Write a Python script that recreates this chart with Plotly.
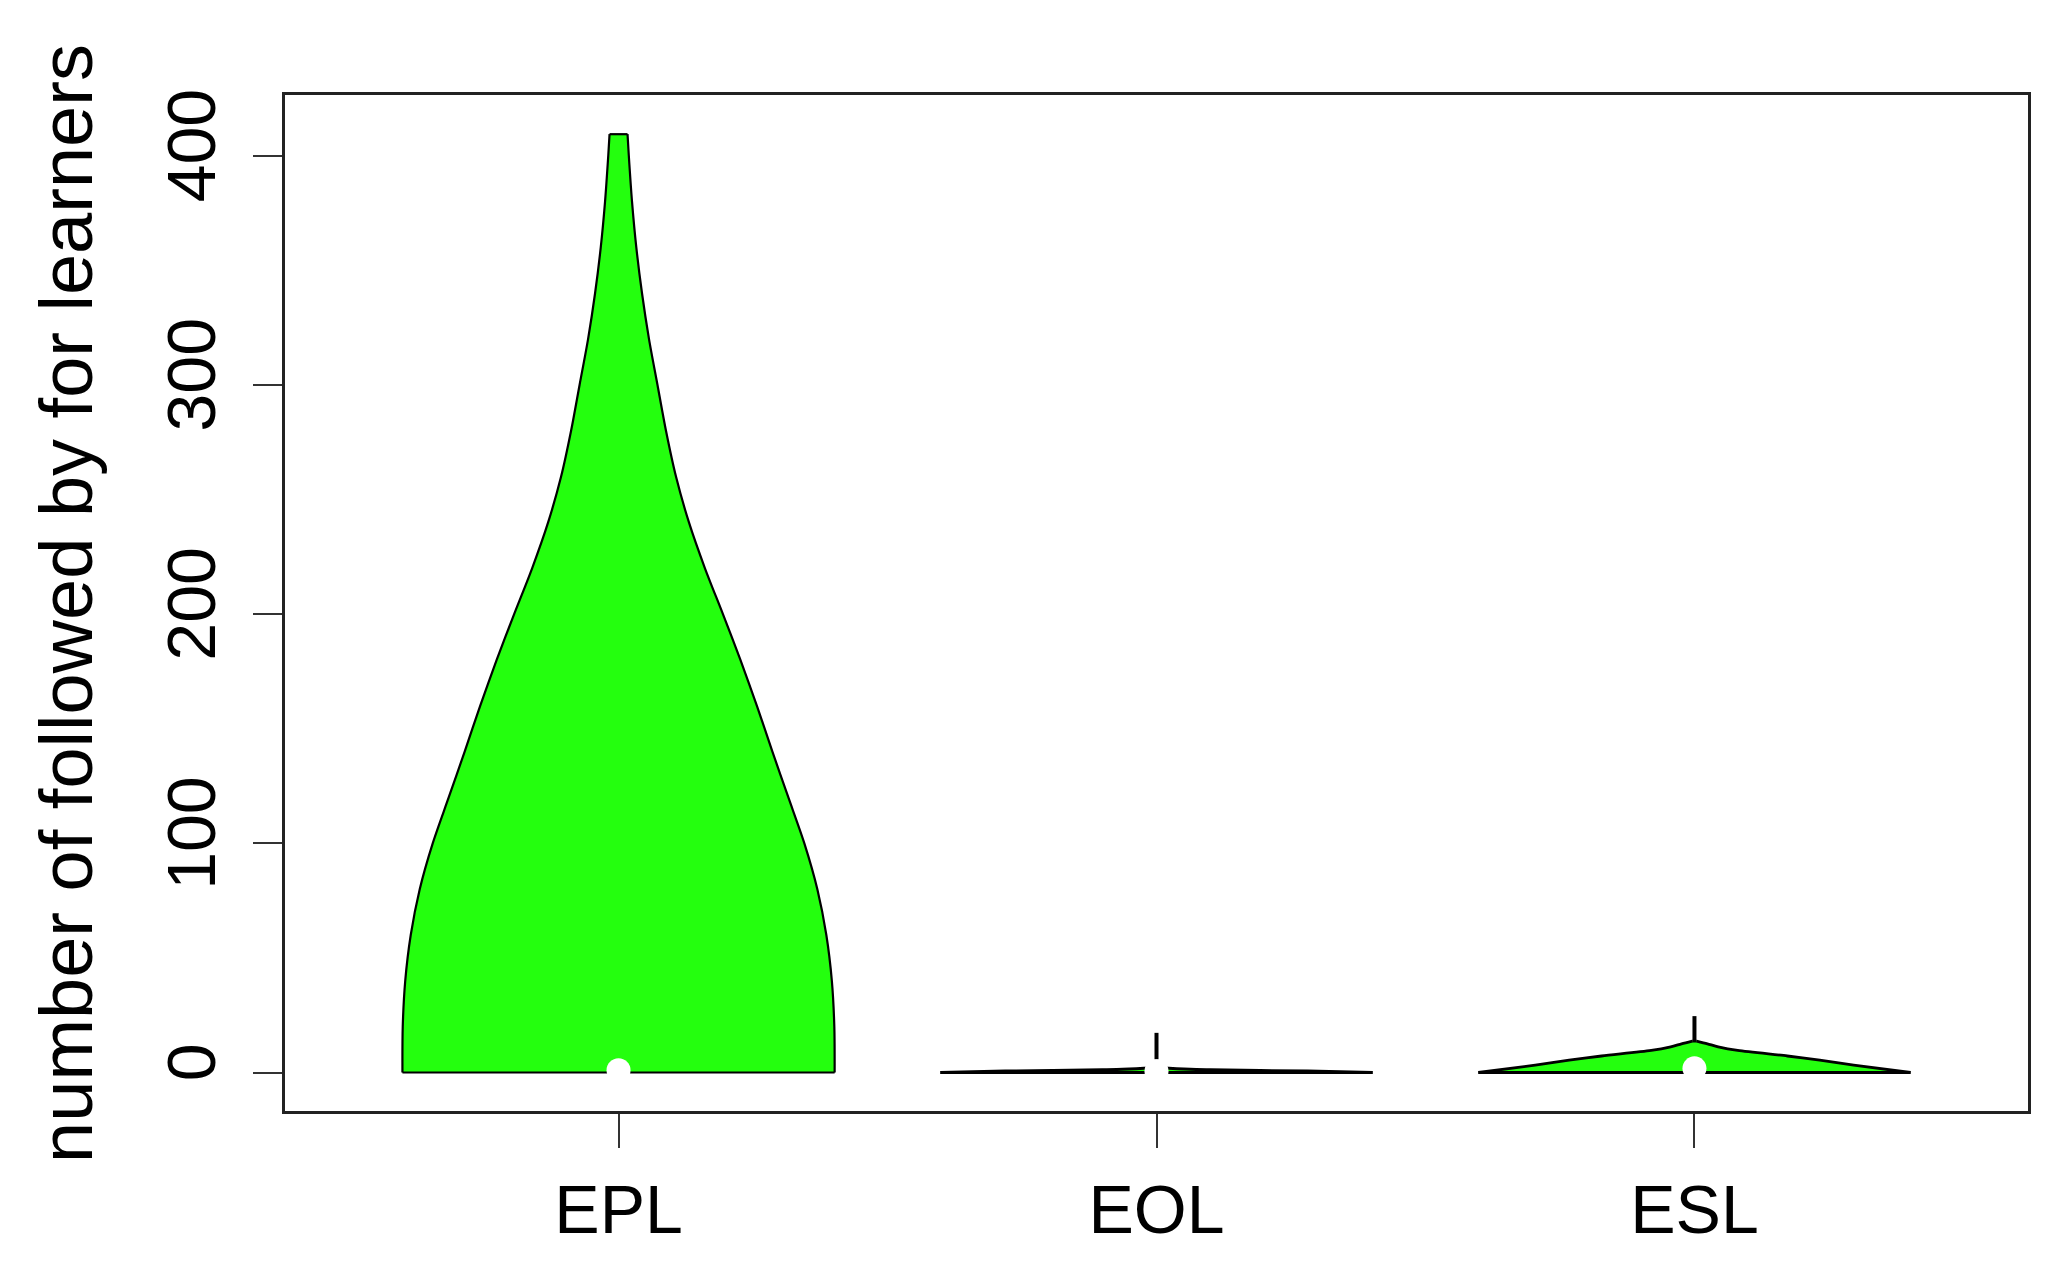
import plotly.graph_objects as go

# ---- data ----
categories = ["EPL", "EOL", "ESL"]
positions = [1, 2, 3]

# violin profiles: value levels and relative density (1 = widest)
epl_levels = [0, 20, 40, 60, 80, 100, 120, 140, 160, 180, 200, 220, 240, 260, 280, 300,
              320, 340, 360, 380, 400, 409.4]
epl_density = [1.0, 0.9986, 0.9871, 0.9616, 0.9200, 0.8599, 0.7859, 0.7120, 0.6403, 0.5640,
               0.4831, 0.3999, 0.3259, 0.2658, 0.2196, 0.1803, 0.1410, 0.1086, 0.0823, 0.0624,
               0.0476, 0.0416]

eol_levels = [0, 0.6, 1.2, 2.0]
eol_density = [1.0, 0.7, 0.25, 0.02]

esl_levels = [0, 3.2, 5.4, 7.2, 9.6, 11.2, 12.5, 13.7]
esl_density = [1.0, 0.737, 0.58, 0.43, 0.2, 0.11, 0.06, 0.01]

# whisker segments (low, high) and medians
whisker_low = [None, 5.7, 13.7]
whisker_high = [None, 17.3, 24.6]
medians = [1.0, 0.5, 1.8]

y_ticks = [0, 100, 200, 300, 400]
y_title = "number of followed by for learners"

# ---- style ----
WEX = 0.4017
FILL = "rgb(36,255,14)"
FONT = "Liberation Sans, Arial, sans-serif"
OUTLINE = [2.2, 3.0, 2.8]

profiles = [(epl_levels, epl_density), (eol_levels, eol_density), (esl_levels, esl_density)]


def seg(fig, xs, ys, lw, spline=False):
    line = dict(color="black", width=lw)
    if spline:
        line.update(shape="spline", smoothing=0.8)
    fig.add_trace(go.Scatter(x=xs, y=ys, mode="lines", line=line,
                             hoverinfo="skip", showlegend=False))


fig = go.Figure()
for pos, (lv, dn), lw in zip(positions, profiles, OUTLINE):
    right_x = [pos + WEX * d for d in dn]
    left_x = [pos - WEX * d for d in dn]
    # filled body
    fig.add_trace(go.Scatter(
        x=right_x + left_x[::-1], y=list(lv) + list(lv[::-1]), mode="lines",
        fill="toself", fillcolor=FILL, line=dict(width=0, color=FILL),
        hoverinfo="skip", showlegend=False))
    # outline: smooth sides, straight bottom and top
    seg(fig, right_x, lv, lw, spline=True)
    seg(fig, left_x, lv, lw, spline=True)
    seg(fig, [left_x[0], right_x[0]], [lv[0], lv[0]], lw)
    seg(fig, [left_x[-1], right_x[-1]], [lv[-1], lv[-1]], lw)

for pos, lo, hi in zip(positions, whisker_low, whisker_high):
    if lo is None:
        continue
    seg(fig, [pos, pos], [lo, hi], 4)

fig.add_trace(go.Scatter(
    x=positions, y=medians, mode="markers",
    marker=dict(color="white", size=24, line=dict(width=0)),
    hoverinfo="skip", showlegend=False, cliponaxis=False))

fig.update_layout(
    width=2069, height=1276,
    margin=dict(l=277, r=49, t=87, b=173, autoexpand=False),
    paper_bgcolor="white", plot_bgcolor="white",
    font=dict(family=FONT, color="black"),
    showlegend=False,
)
fig.add_annotation(
    text=y_title, xref="paper", yref="paper", x=-0.1257, y=0.5,
    xanchor="center", yanchor="middle", textangle=-90, showarrow=False,
    font=dict(size=74, family=FONT, color="black"),
)
fig.update_xaxes(
    range=[0.38, 3.62], tickmode="array", tickvals=positions, ticktext=categories,
    showgrid=False, zeroline=False,
    showline=True, mirror=True, linecolor="#222", linewidth=3,
    ticks="outside", ticklen=34, tickwidth=2, tickcolor="#333",
    tickfont=dict(size=68, family=FONT, color="black"),
    ticklabelstandoff=3,
)
fig.update_yaxes(
    range=[-16.8, 426.5], tickmode="array", tickvals=y_ticks,
    ticktext=[str(t) for t in y_ticks],
    showgrid=False, zeroline=False,
    showline=True, mirror=True, linecolor="#222", linewidth=3,
    ticks="outside", ticklen=29, tickwidth=2, tickcolor="#333",
    tickangle=-90,
    tickfont=dict(size=68, family=FONT, color="black"),
    ticklabelstandoff=11,
)

fig.write_html("out.html")
